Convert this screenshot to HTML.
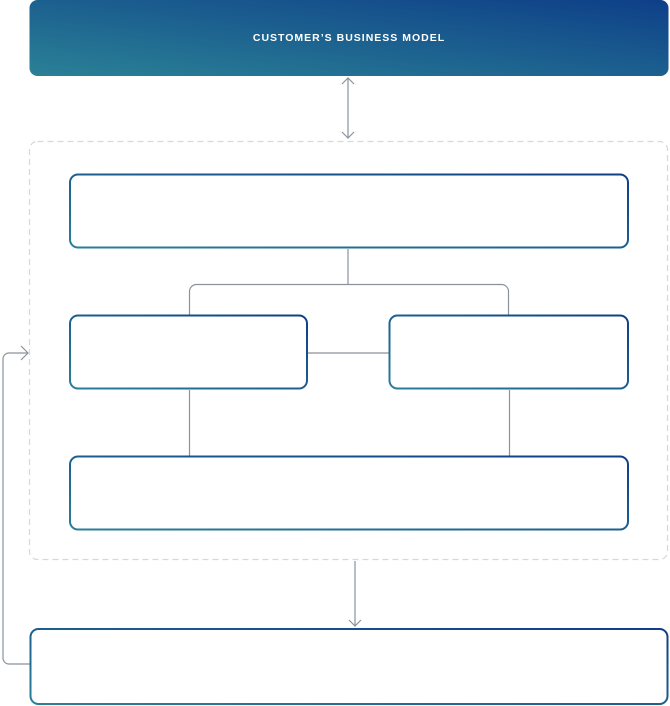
<!DOCTYPE html>
<html><head><meta charset="utf-8"><style>
html,body{margin:0;padding:0;background:#fff;width:670px;height:706px;overflow:hidden}
svg{display:block}
text{font-family:"Liberation Sans",sans-serif}
</style></head><body>
<svg width="670" height="706" viewBox="0 0 670 706" xmlns="http://www.w3.org/2000/svg">
<defs>
<linearGradient id="hg" x1="0" y1="1" x2="1" y2="0">
<stop offset="0" stop-color="#2a8196"/><stop offset="1" stop-color="#0e3f88"/>
</linearGradient>
<linearGradient id="sg" x1="0" y1="1" x2="1" y2="0">
<stop offset="0" stop-color="#2a7f98"/><stop offset="1" stop-color="#0e3f88"/>
</linearGradient>
</defs>
<rect x="29.5" y="0" width="639" height="76" rx="8" fill="url(#hg)"/>
<text x="349" y="41" fill="#fff" font-size="10.5" font-weight="bold" text-anchor="middle" letter-spacing="1">CUSTOMER’S BUSINESS MODEL</text>
<g stroke="#8a929c" stroke-width="1.2" fill="none">
<line x1="348" y1="78" x2="348" y2="138"/>
<polyline points="342,84 348,78 354,84"/>
<polyline points="342,132 348,138 354,132"/>
<line x1="348" y1="249" x2="348" y2="284.5"/>
<path d="M189.5 315 V292 a7 7 0 0 1 7 -7.5 H501.5 a7 7 0 0 1 7 7.5 V315"/>
<line x1="307" y1="353" x2="389" y2="353"/>
<line x1="189.5" y1="390" x2="189.5" y2="456"/>
<line x1="509.5" y1="390" x2="509.5" y2="456"/>
<line x1="355" y1="561" x2="355" y2="626"/>
<polyline points="349,620 355,626 361,620"/>
<path d="M30 664 H9 a6 6 0 0 1 -6 -6 V359 a6 6 0 0 1 6 -6 H28"/>
<polyline points="21,346 28,353 21,360"/>
</g>
<rect x="29.5" y="141.5" width="638" height="418" rx="8" fill="none" stroke="#d5d8de" stroke-width="1.2" stroke-dasharray="6 4"/>
<text x="32" y="127" fill="#fff" font-size="9">PLATFORM LAYER</text>
<g fill="#fff" stroke="url(#sg)" stroke-width="2">
<rect x="70" y="174.5" width="558" height="73" rx="8"/>
<rect x="70" y="315.5" width="237" height="73" rx="8"/>
<rect x="389.5" y="315.5" width="238.5" height="73" rx="8"/>
<rect x="70" y="456.5" width="558" height="73" rx="8"/>
<rect x="30.5" y="629" width="637" height="75" rx="8"/>
</g>
<g fill="#fff" font-size="9" text-anchor="middle">
<text x="349" y="214">DATA</text>
<text x="188" y="355">ANALYTICS</text>
<text x="509" y="355">INSIGHTS</text>
<text x="349" y="496">OPERATIONS</text>
<text x="349" y="669">MEASURED OUTCOMES</text>
<text x="405" y="586" text-anchor="start">IMPLEMENTATION</text>
<text x="405" y="598" text-anchor="start">AND CONTINUOUS</text>
</g>
</svg>
</body></html>
